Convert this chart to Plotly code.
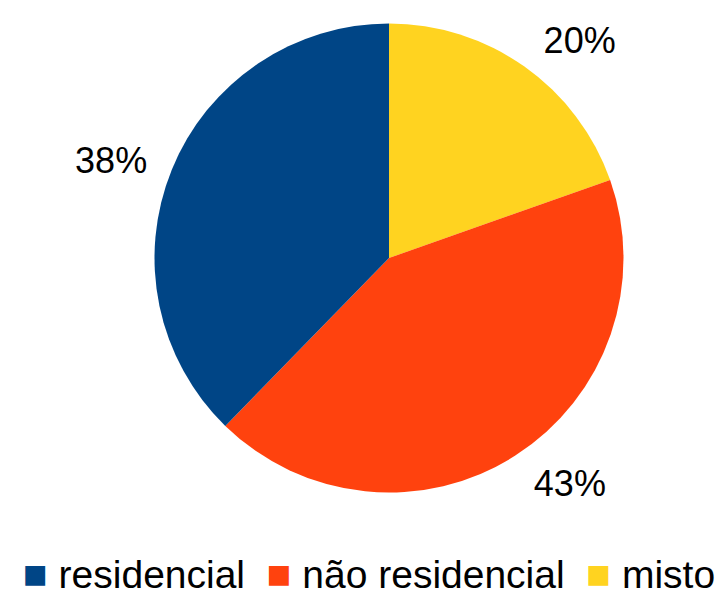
import plotly.graph_objects as go

labels = ["residencial", "não residencial", "misto"]
values = [37.7, 42.7, 19.6]
colors = ["#004586", "#ff420e", "#ffd320"]

FONT = "Liberation Sans, Arial, sans-serif"

# slices run clockwise from 12 o'clock: misto, não residencial, residencial
pie_labels = labels[::-1]
pie_values = values[::-1]
pie_colors = colors[::-1]

fig = go.Figure()

# transparent companion pie, slightly larger, carrying the percentage labels
fig.add_trace(go.Pie(
    labels=pie_labels,
    values=pie_values,
    marker=dict(colors=["rgba(0,0,0,0)"] * len(pie_values), line=dict(width=0)),
    sort=False,
    direction="clockwise",
    rotation=0,
    texttemplate="%{percent:.0%}",
    textposition="outside",
    textfont=dict(family=FONT, size=36, color="#000000"),
    hoverinfo="skip",
    domain=dict(x=[0.1804, 0.8691], y=[0.168, 1.0]),
    automargin=False,
    showlegend=False,
))

# visible pie
fig.add_trace(go.Pie(
    labels=pie_labels,
    values=pie_values,
    marker=dict(colors=pie_colors, line=dict(width=0)),
    sort=False,
    direction="clockwise",
    rotation=0,
    textinfo="none",
    hoverinfo="label+percent",
    domain=dict(x=[0.2018, 0.8478], y=[0.1938, 0.9742]),
    automargin=False,
    showlegend=False,
))

# legend row built from the category names and colours
nb = "\u00a0"
parts = []
for lab, col in zip(labels, colors):
    parts.append(f"<span style='color:{col};font-size:41px'>\u25a0</span>{nb}{lab}")
legend_text = (nb * 2).join(parts)

fig.add_annotation(
    text=legend_text,
    xref="paper", yref="paper",
    x=0.497, y=0.016,
    xanchor="center", yanchor="bottom",
    showarrow=False,
    font=dict(family=FONT, size=39, color="#000000"),
)

fig.update_layout(
    width=726, height=601,
    margin=dict(l=0, r=0, t=0, b=0),
    paper_bgcolor="white",
    plot_bgcolor="white",
    showlegend=False,
)

fig.write_html("out.html")
